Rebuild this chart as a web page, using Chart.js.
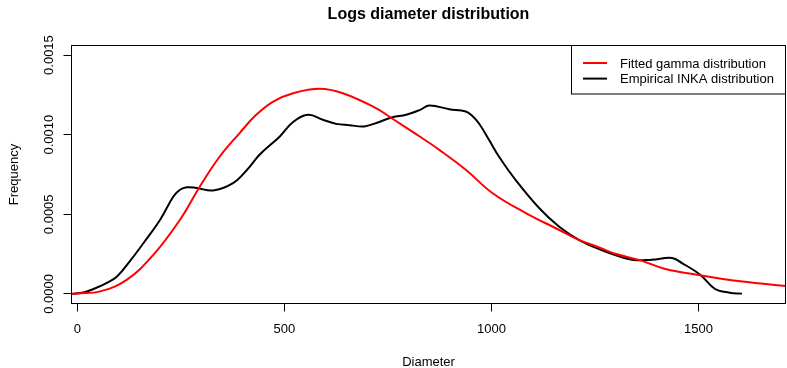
<!DOCTYPE html>
<html>
<head>
<meta charset="utf-8">
<script src="https://cdn.jsdelivr.net/npm/chart.js@4"></script>
<style>
  html, body { margin: 0; padding: 0; background: #fff; }
  canvas { display: block; }
</style>
</head>
<body>
<canvas id="chart" width="787" height="368"></canvas>
<script>
// Fitted gamma density (red)
const gammaX = [-14, 0, 55, 120, 184, 248, 296, 344, 392, 430, 473, 521, 585, 641, 721, 761, 826, 874, 938, 1002, 1083, 1163, 1211, 1263, 1299, 1360, 1420, 1504, 1601, 1713, 1760];
const gammaY = [0, 0.000003, 0.000016, 0.00009, 0.000247, 0.000466, 0.000675, 0.000863, 0.00101, 0.00112, 0.001208, 0.00126, 0.001288, 0.00126, 0.001167, 0.0011, 0.00099, 0.000905, 0.00078, 0.000634, 0.000508, 0.000403, 0.00034, 0.000289, 0.000252, 0.000211, 0.000157, 0.000118, 0.000079, 0.00005, 0.00004];

// Empirical INKA density (black)
const inkaX = [-14, 15, 39, 68, 96, 128, 160, 200, 232, 248, 264, 288, 328, 376, 410, 440, 489, 521, 557, 593, 625, 657, 693, 729, 761, 794, 828, 850, 898, 938, 954, 970, 994, 1018, 1058, 1115, 1163, 1211, 1263, 1339, 1387, 1436, 1460, 1504, 1540, 1575, 1605];
const inkaY = [0, 0.00001, 0.000031, 0.000065, 0.00011, 0.000209, 0.00032, 0.000466, 0.000612, 0.000654, 0.00067, 0.000665, 0.00065, 0.000696, 0.00078, 0.000874, 0.000989, 0.00108, 0.001125, 0.001094, 0.001068, 0.00106, 0.001052, 0.00108, 0.00111, 0.001125, 0.001156, 0.001183, 0.00116, 0.001146, 0.001118, 0.00107, 0.000968, 0.000863, 0.000717, 0.00054, 0.000424, 0.00034, 0.000278, 0.000215, 0.000215, 0.000226, 0.000194, 0.000121, 0.000031, 0.000008, 0.000002];

const xTicks = [0, 500, 1000, 1500];
const yTicks = [0, 0.0005, 0.0010, 0.0015];

const seriesNames = ["Fitted gamma distribution", "Empirical INKA distribution"];
const seriesColors = ["#ff0000", "#000000"];

const FONT = "'Liberation Sans', Arial, Helvetica, sans-serif";

function toPoints(xs, ys) {
  return xs.map((x, i) => ({ x: x, y: ys[i] }));
}

// draws the R-like frame, text and legend
const rPlot = {
  id: "rPlot",
  afterDraw(chart) {
    const ctx = chart.ctx;
    const a = chart.chartArea;
    const ys = chart.scales.y;
    ctx.save();

    // box around plot
    ctx.strokeStyle = "#000";
    ctx.lineWidth = 1;
    ctx.strokeRect(a.left, a.top, a.right - a.left, a.bottom - a.top);

    ctx.fillStyle = "#000";
    // title
    ctx.font = "bold 16px " + FONT;
    ctx.textAlign = "center";
    ctx.textBaseline = "alphabetic";
    ctx.fillText("Logs diameter distribution", (a.left + a.right) / 2, 19);

    // x axis title
    ctx.font = "13px " + FONT;
    ctx.fillText("Diameter", (a.left + a.right) / 2, 365.5);

    // y tick labels, rotated like R
    yTicks.forEach((v) => {
      ctx.save();
      ctx.translate(53, ys.getPixelForValue(v));
      ctx.rotate(-Math.PI / 2);
      ctx.fillText(v.toFixed(4), 0, 0);
      ctx.restore();
    });

    // y axis title
    ctx.save();
    ctx.translate(18, (a.top + a.bottom) / 2);
    ctx.rotate(-Math.PI / 2);
    ctx.fillText("Frequency", 0, 0);
    ctx.restore();

    // legend
    const lx = 571.5, ly = a.top, lw = a.right - lx, lh = 48.5;
    ctx.fillStyle = "#fff";
    ctx.fillRect(lx, ly, lw, lh);
    ctx.strokeStyle = "#000";
    ctx.strokeRect(lx, ly, lw, lh);
    ctx.textAlign = "left";
    ctx.textBaseline = "middle";
    ctx.font = "13px " + FONT;
    seriesNames.forEach((name, i) => {
      const yy = 63 + i * 15.6;
      ctx.strokeStyle = seriesColors[i];
      ctx.lineWidth = 2;
      ctx.beginPath();
      ctx.moveTo(583, yy);
      ctx.lineTo(607, yy);
      ctx.stroke();
      ctx.fillStyle = "#000";
      ctx.fillText(name, 620, yy + 1);
    });

    ctx.restore();
  }
};

const chart = new Chart(document.getElementById("chart"), {
  type: "line",
  data: {
    datasets: [
      {
        label: seriesNames[0],
        data: toPoints(gammaX, gammaY),
        borderColor: seriesColors[0],
        borderWidth: 2,
        pointRadius: 0,
        tension: 0.4,
        fill: false
      },
      {
        label: seriesNames[1],
        data: toPoints(inkaX, inkaY),
        borderColor: seriesColors[1],
        borderWidth: 2,
        pointRadius: 0,
        tension: 0.4,
        fill: false
      }
    ]
  },
  options: {
    responsive: false,
    animation: false,
    devicePixelRatio: 1,
    layout: { padding: { top: 45.5, right: 1.5, left: 0, bottom: 0 } },
    plugins: {
      legend: { display: false },
      title: { display: false },
      tooltip: { enabled: false }
    },
    scales: {
      x: {
        type: "linear",
        min: -14,
        max: 1710,
        afterBuildTicks: (s) => { s.ticks = xTicks.map((v) => ({ value: v })); },
        afterFit: (s) => { s.height = 64.5; },
        grid: { display: true, drawOnChartArea: false, drawTicks: true, tickLength: 8, color: "#000" },
        border: { display: false },
        ticks: {
          color: "#000",
          padding: 10,
          maxRotation: 0,
          font: { family: FONT, size: 13 },
          callback: (v) => String(v)
        }
      },
      y: {
        type: "linear",
        min: -0.00006,
        max: 0.00156,
        afterBuildTicks: (s) => { s.ticks = yTicks.map((v) => ({ value: v })); },
        afterFit: (s) => { s.width = 71.5; },
        grid: { display: true, drawOnChartArea: false, drawTicks: true, tickLength: 8, color: "#000" },
        border: { display: false },
        ticks: { display: false }
      }
    }
  },
  plugins: [rPlot]
});
</script>
</body>
</html>
